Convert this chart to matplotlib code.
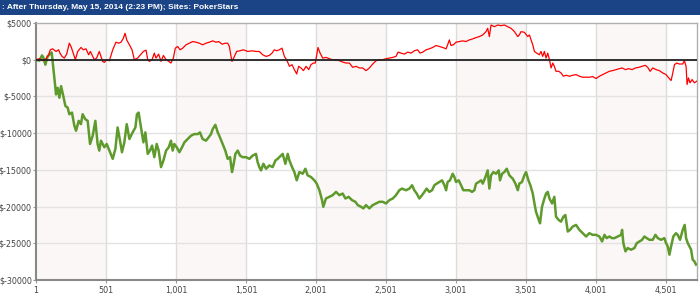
from matplotlib import pyplot as plt
import numpy as np

# red line: hand number, winnings ($)
red_hands = [1, 25, 49, 72, 91, 103, 120, 144, 163, 172, 187, 203, 220, 239, 251, 263, 282, 299, 322, 339,
             358, 377, 389, 406, 418, 434, 453, 465, 477, 489, 506, 525, 549, 572, 591, 608, 625, 637, 649, 668,
             687, 703, 727, 751, 768, 787, 799, 811, 830, 846, 858, 877, 894, 911, 930, 949, 965, 982, 996, 1013,
             1030, 1049, 1072, 1096, 1120, 1144, 1168, 1191, 1215, 1239, 1263, 1287, 1306, 1330, 1353, 1370, 1382, 1394, 1401, 1418,
             1434, 1458, 1482, 1513, 1544, 1572, 1596, 1620, 1644, 1668, 1687, 1703, 1720, 1739, 1758, 1775, 1791, 1811, 1830, 1846,
             1863, 1877, 1894, 1911, 1930, 1949, 1965, 1982, 1996, 2006, 2015, 2030, 2049, 2072, 2096, 2120, 2144, 2168, 2191, 2215,
             2239, 2263, 2287, 2311, 2334, 2358, 2382, 2406, 2430, 2453, 2477, 2501, 2525, 2549, 2572, 2587, 2608, 2632, 2656, 2680,
             2703, 2727, 2744, 2763, 2787, 2810, 2834, 2858, 2882, 2906, 2930, 2941, 2953, 2965, 2982, 3001, 3025, 3049, 3072, 3096,
             3120, 3144, 3168, 3192, 3215, 3227, 3239, 3251, 3275, 3299, 3322, 3346, 3370, 3394, 3418, 3442, 3453, 3465, 3489, 3513,
             3525, 3537, 3549, 3561, 3577, 3596, 3608, 3620, 3632, 3644, 3656, 3668, 3680, 3692, 3703, 3715, 3734, 3751, 3768, 3787,
             3811, 3834, 3858, 3882, 3906, 3930, 3953, 3977, 4001, 4025, 4049, 4072, 4096, 4120, 4144, 4168, 4187, 4211, 4234, 4258,
             4282, 4306, 4330, 4353, 4370, 4387, 4406, 4430, 4453, 4477, 4501, 4520, 4537, 4549, 4561, 4577, 4596, 4620, 4632, 4644,
             4651, 4661, 4672, 4687, 4703, 4720]
red_vals = [0, 135, -135, 135, 675, 1350, 1485, 1125, 1350, 900, 450, 225, 765, 2250, 1800, 1125, 0, 1125, 1665, 1350,
            1485, 675, 1125, 450, 0, 225, 1125, 450, -225, -360, 0, -135, 1350, 2385, 2250, 2385, 2925, 3600, 2700, 2025,
            1350, 0, 225, 765, 1125, 1305, 0, -225, 0, 900, 225, 765, -225, 585, 0, -225, -450, 225, 1575, 1800,
            1350, 1575, 2025, 2250, 2475, 2385, 2250, 2025, 2250, 2385, 2565, 2385, 2475, 2115, 2250, 2250, 1800, 450, -225, 450,
            1125, 1215, 1350, 1125, 1215, 1125, 1125, 675, 450, 585, 900, 1350, 1215, 1350, 1575, 450, 0, -900, -675, -1350,
            -1935, -900, -1125, -1485, -900, -1350, -675, -450, -450, 675, 1665, 900, 225, 315, 135, 0, 0, -135, -315, -450,
            -450, -1035, -900, -1125, -1125, -1485, -1125, -585, -135, 0, 0, 135, 225, 315, 450, 1035, 900, 765, 1035, 900,
            1215, 1350, 900, 1035, 1350, 1485, 1665, 1935, 1800, 1665, 1485, 2025, 2700, 1935, 2025, 2385, 2475, 2565, 2475, 2700,
            2835, 3015, 3150, 3375, 3825, 4275, 3150, 4725, 4500, 4725, 4635, 4725, 4500, 4275, 3825, 3150, 3375, 3825, 3735, 3150,
            3375, 2700, 2025, 1125, 900, 675, 1125, 450, 1125, 225, 900, 0, -1125, -450, -900, -1575, -1575, -1800, -2250, -2115,
            -2250, -2115, -2025, -2250, -2385, -2385, -2385, -2295, -2565, -2250, -2025, -1800, -1575, -1485, -1350, -1215, -1125, -1350, -1215, -1350,
            -1125, -1035, -900, -765, -1035, -1575, -1125, -1350, -1485, -1800, -2025, -2475, -2835, -1800, -675, -450, -585, -585, -135, -900,
            -3375, -2475, -3150, -2700, -3150, -2925]

# green line: hand number, winnings ($)
green_hands = [1, 25, 44, 53, 68, 84, 101, 113, 125, 137, 144, 156, 168, 180, 196, 211, 227, 239, 258, 275,
               287, 306, 322, 334, 353, 370, 387, 406, 425, 441, 453, 465, 489, 506, 525, 549, 568, 584, 601, 615,
               632, 649, 668, 691, 711, 722, 734, 751, 768, 782, 799, 815, 830, 846, 863, 877, 894, 911, 930, 949,
               965, 977, 989, 1006, 1025, 1044, 1061, 1084, 1108, 1132, 1156, 1172, 1191, 1215, 1234, 1251, 1263, 1282, 1299, 1315,
               1334, 1353, 1370, 1387, 1401, 1411, 1425, 1442, 1458, 1477, 1501, 1525, 1549, 1572, 1584, 1596, 1608, 1625, 1644, 1668,
               1691, 1711, 1727, 1751, 1763, 1782, 1799, 1811, 1830, 1846, 1863, 1882, 1906, 1925, 1941, 1965, 1989, 2006, 2025, 2044,
               2053, 2072, 2096, 2120, 2144, 2168, 2191, 2211, 2234, 2258, 2282, 2299, 2322, 2339, 2358, 2382, 2406, 2430, 2453, 2477,
               2501, 2525, 2549, 2572, 2596, 2615, 2644, 2668, 2687, 2703, 2720, 2739, 2758, 2775, 2791, 2810, 2830, 2846, 2863, 2882,
               2901, 2918, 2930, 2941, 2958, 2977, 2989, 3001, 3020, 3037, 3053, 3072, 3096, 3115, 3132, 3144, 3163, 3180, 3192, 3211,
               3227, 3239, 3251, 3268, 3287, 3306, 3315, 3330, 3346, 3363, 3382, 3406, 3425, 3442, 3453, 3472, 3489, 3501, 3518, 3532,
               3549, 3561, 3572, 3592, 3601, 3615, 3632, 3644, 3656, 3668, 3687, 3703, 3715, 3734, 3751, 3768, 3782, 3799, 3815, 3834,
               3858, 3882, 3906, 3930, 3953, 3977, 4001, 4025, 4044, 4061, 4077, 4096, 4115, 4132, 4156, 4180, 4187, 4196, 4211, 4227,
               4251, 4275, 4292, 4311, 4330, 4346, 4363, 4382, 4406, 4425, 4442, 4465, 4489, 4501, 4513, 4525, 4537, 4553, 4572, 4584,
               4601, 4620, 4634, 4644, 4656, 4668, 4680, 4691, 4703, 4715]
green_vals = [0, -135, 585, 315, -675, 450, 765, 990, -1125, -3375, -4725, -3825, -5175, -3600, -4950, -6300, -6525, -7425, -7200, -9000,
              -9675, -8325, -8775, -7425, -8100, -8325, -11475, -10350, -8325, -11475, -12375, -11025, -11925, -11475, -12375, -13500, -12150, -9225, -11025, -12600,
              -11250, -8775, -10800, -9900, -9225, -7425, -7200, -9225, -11250, -9900, -12825, -12375, -11700, -13275, -11475, -12375, -14625, -13725, -12375, -11925,
              -11025, -12375, -11475, -11925, -12600, -11925, -11250, -10800, -10350, -10125, -10125, -9900, -10800, -11025, -10575, -10125, -9450, -8865, -9900, -10575,
              -11475, -12375, -13500, -13275, -15300, -14400, -12825, -12375, -13050, -13275, -13275, -13500, -13050, -12825, -13950, -14625, -15075, -14175, -14850, -14400,
              -14625, -13725, -13500, -13050, -12825, -14175, -12825, -13725, -14625, -15300, -16425, -15300, -15525, -14850, -15750, -15975, -16425, -16875, -17775, -19125,
              -20025, -18900, -18675, -18450, -18000, -18450, -18225, -18900, -18675, -19125, -19350, -19800, -20025, -20250, -19800, -20250, -19800, -19575, -19350, -19350,
              -19575, -19125, -18900, -18450, -17775, -17550, -17775, -17550, -17100, -17775, -18225, -18900, -18450, -18000, -17550, -18000, -17775, -17100, -16875, -16650,
              -16425, -17100, -17775, -16650, -16425, -15525, -15975, -16650, -16425, -17100, -17775, -17775, -17775, -18000, -17775, -16875, -16650, -16425, -16875, -15975,
              -15075, -17550, -15750, -15300, -15525, -15075, -16425, -15525, -15300, -14850, -15750, -16200, -16875, -17775, -16875, -16650, -15750, -15300, -16425, -17100,
              -18225, -19575, -20700, -21825, -22275, -20025, -18900, -18225, -18000, -18900, -19575, -18675, -21375, -21825, -22050, -21375, -21150, -23400, -23175, -22725,
              -22500, -23175, -23625, -24075, -23625, -23850, -23850, -24075, -24750, -23850, -24300, -24075, -24300, -24300, -24075, -23850, -23175, -24975, -26100, -25650,
              -25875, -25650, -24975, -24750, -24525, -24075, -24300, -24525, -24525, -23850, -24300, -24525, -24300, -24975, -25425, -26550, -25425, -24075, -23625, -23850,
              -24525, -23175, -22500, -24300, -24975, -25425, -25875, -27225, -27450, -27900]

x_ticks = [1, 501, 1001, 1501, 2001, 2501, 3001, 3501, 4001, 4501]
x_labels = ['1', '501', '1,001', '1,501', '2,001', '2,501', '3,001', '3,501', '4,001', '4,501']
y_ticks = [5000, 0, -5000, -10000, -15000, -20000, -25000, -30000]
y_labels = ['$5000', '$0', '$-5000', '$-10000', '$-15000', '$-20000', '$-25000', '$-30000']
title = ': After Thursday, May 15, 2014 (2:23 PM); Sites: PokerStars'


def main():
    fig = plt.figure(figsize=(7.0, 2.95), dpi=100)
    fig.patch.set_facecolor('white')

    # blue header bar
    fig.patches.append(plt.Rectangle((0, 1 - 15 / 295), 1, 15 / 295, transform=fig.transFigure,
                                     facecolor='#1b4486', edgecolor='none', zorder=0))
    fig.text(0.003, 1 - 7.5 / 295, title, color='white', fontsize=6.0, fontweight='bold',
             family='Liberation Sans', va='center', ha='left')

    ax = fig.add_axes([36 / 700, 1 - 280 / 295, 661 / 700, 257 / 295])
    xmax = 4722
    ax.set_xlim(1, xmax)
    ax.set_ylim(-30000, 5000)

    # alternating shaded bands
    edges = x_ticks + [xmax]
    for i in range(len(edges) - 1):
        if i % 2 == 0:
            ax.axvspan(edges[i], edges[i + 1], color='#fcf7f7', zorder=0, lw=0)

    for xt in x_ticks[1:]:
        ax.axvline(xt, color='#dcdcdc', lw=1, zorder=1)
    for yt in y_ticks[1:-1]:
        ax.axhline(yt, color='#e2e2e2', lw=1, zorder=1)

    ax.plot(green_hands, green_vals, color='#5e9a2c', lw=1.8, zorder=3)
    ax.plot(red_hands, red_vals, color='#ff0000', lw=0.9, zorder=4)
    ax.axhline(0, color='#222222', lw=1.3, zorder=5)

    ax.set_xticks(x_ticks)
    ax.set_xticklabels(x_labels)
    ax.set_yticks(y_ticks)
    ax.set_yticklabels(y_labels)
    ax.tick_params(axis='both', labelsize=5.8, labelcolor='#444444', color='#999999', length=2, pad=1)
    ax.tick_params(axis='x', pad=2.5)

    for side in ['top', 'right']:
        ax.spines[side].set_color('#b0b0b0')
        ax.spines[side].set_linewidth(1)
    for side in ['left', 'bottom']:
        ax.spines[side].set_color('#888888')
        ax.spines[side].set_linewidth(1.5)

    fig.savefig('out.png', dpi=100)


if __name__ == "__main__":
    main()
